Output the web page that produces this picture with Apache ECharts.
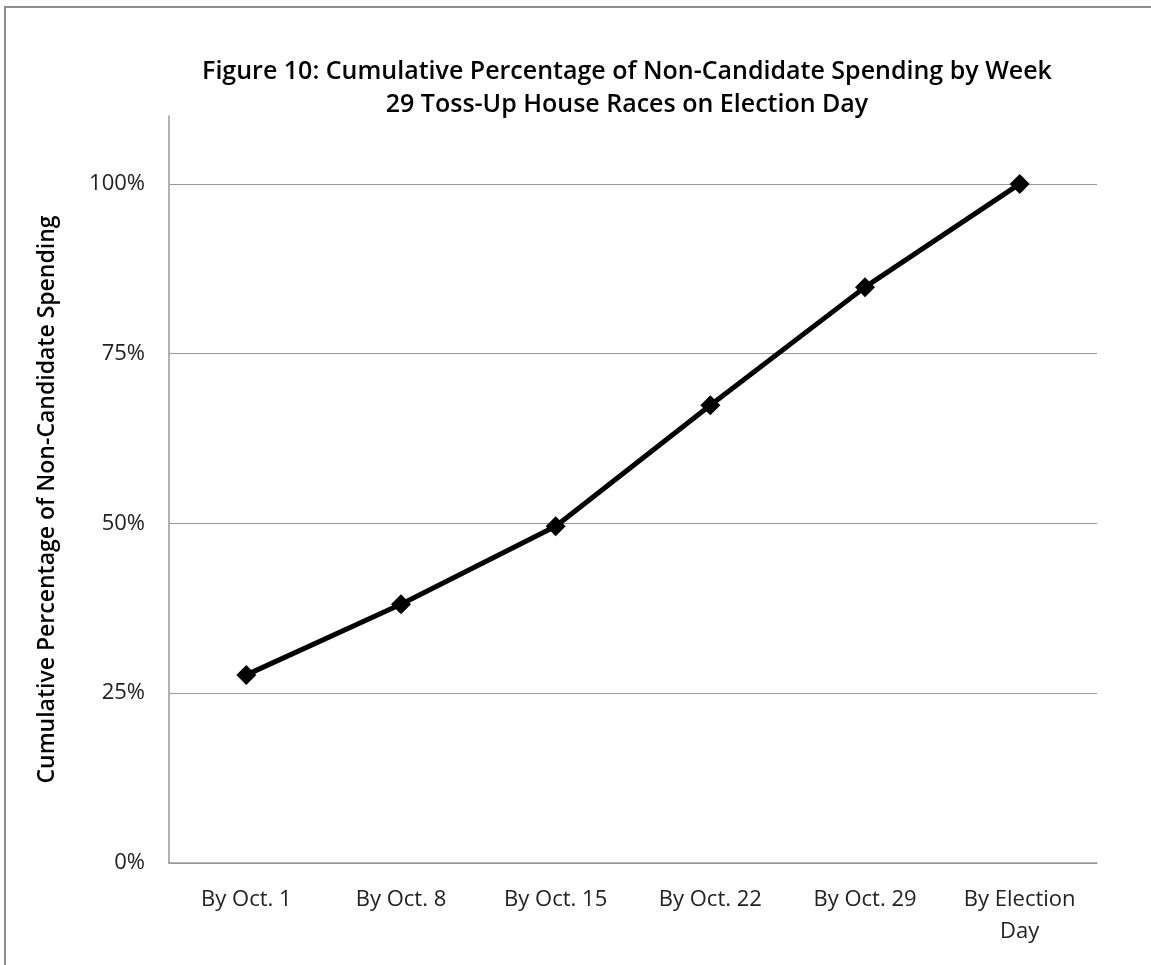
<!DOCTYPE html>
<html><head><meta charset="utf-8">
<script src="https://cdn.jsdelivr.net/npm/echarts@6/dist/echarts.min.js"></script>
<style>html,body{margin:0;padding:0;background:#fff}#c{width:1151px;height:965px}</style>
</head><body><div id="c"></div>
<script>
const categories = ['By Oct. 1', 'By Oct. 8', 'By Oct. 15', 'By Oct. 22', 'By Oct. 29', 'By Election\nDay'];
const values = [27.7, 38.1, 49.6, 67.4, 84.8, 100];
const yTicks = [0, 25, 50, 75, 100];
const titleLines = ['Figure 10: Cumulative Percentage of Non-Candidate Spending by Week', '29 Toss-Up House Races on Election Day'];
const yName = 'Cumulative Percentage of Non-Candidate Spending';

const chart = echarts.init(document.getElementById('c'));
const font = '"Open Sans", sans-serif';
chart.setOption({
  animation: false,
  backgroundColor: '#fff',
  graphic: [{type: 'rect', shape: {x: 5, y: 7, width: 1200, height: 1000}, style: {fill: 'none', stroke: '#8c8c8c', lineWidth: 2}}],
  title: {
    text: titleLines.join('\n'), left: 622, top: 50,
    textAlign: 'center',
    textStyle: {fontFamily: font, fontSize: 25, fontWeight: 600, color: '#000', lineHeight: 33}
  },
  grid: {left: 169, right: 54, top: 116, bottom: 102},
  xAxis: {
    type: 'category', data: categories, boundaryGap: true,
    axisLine: {lineStyle: {color: '#999', width: 1.5}},
    axisTick: {show: false},
    axisLabel: {fontFamily: font, fontSize: 22, color: '#222', margin: 21, lineHeight: 32, interval: 0}
  },
  yAxis: {
    type: 'value', min: 0, max: 110, interval: 25,
    name: yName, nameLocation: 'middle', nameGap: 110, nameRotate: 90,
    nameTextStyle: {fontFamily: font, fontSize: 23, fontWeight: 600, color: '#000', padding: [0, 20, 0, 0]},
    axisLine: {show: true, lineStyle: {color: '#999', width: 1.5}},
    axisTick: {show: false},
    axisLabel: {fontFamily: font, fontSize: 22, color: '#222', margin: 24, showMaxLabel: false,
      formatter: v => yTicks.indexOf(v) >= 0 ? v + '%' : ''},
    splitLine: {show: true, showMaxLine: false, lineStyle: {color: '#999', width: 1.2}}
  },
  series: [{
    type: 'line', data: values,
    lineStyle: {color: '#000', width: 5},
    itemStyle: {color: '#000'},
    symbol: 'diamond', symbolSize: 20
  }]
});
</script></body></html>
